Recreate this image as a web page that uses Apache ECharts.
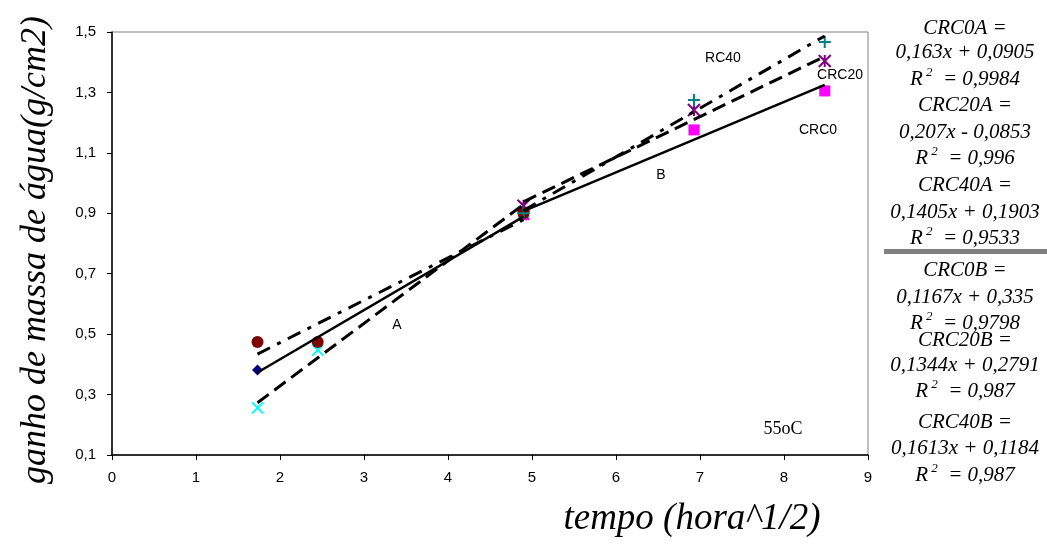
<!DOCTYPE html>
<html>
<head>
<meta charset="utf-8">
<script src="https://cdn.jsdelivr.net/npm/echarts@6/dist/echarts.min.js"></script>
<style>html,body{margin:0;padding:0;background:#fff}#c{width:1047px;height:545px}</style>
</head>
<body>
<div id="c"></div>
<script>
// ---- data (x = sqrt(hours)) ----
const crc0A_pts  = [[1.732,0.381],[2.449,0.474],[4.899,0.900]];
const crc0B_pts  = [[4.899,0.895],[6.928,1.176],[8.485,1.305]];
const crc20A_pts = [[1.732,0.256],[2.449,0.447],[4.899,0.905]];
const crc20B_pts = [[4.899,0.925],[6.928,1.242],[8.485,1.404]];
const crc40A_pts = [[1.732,0.474],[2.449,0.474],[4.899,0.900]];
const crc40B_pts = [[4.899,0.900],[6.928,1.275],[8.485,1.467]];

// trend lines (end points)
const crc0A_line  = [[1.732,0.373],[4.899,0.889]];
const crc0B_line  = [[4.899,0.907],[8.485,1.325]];
const crc20A_line = [[1.732,0.273],[4.899,0.929]];
const crc20B_line = [[4.899,0.938],[8.485,1.419]];
const crc40A_line = [[1.732,0.434],[4.899,0.879]];
const crc40B_line = [[4.899,0.909],[8.485,1.487]];

const equationLines = [
  'CRC0A =', '0,163x + 0,0905', 'R2|0,9984',
  'CRC20A =', '0,207x - 0,0853', 'R2|0,996',
  'CRC40A =', '0,1405x + 0,1903', 'R2|0,9533',
  'CRC0B =', '0,1167x + 0,335', 'R2|0,9798',
  'CRC20B =', '0,1344x + 0,2791', 'R2|0,987',
  'CRC40B =', '0,1613x + 0,1184', 'R2|0,987'
];
const equationY = [27,51,78, 104,131,157, 184,211,237, 269,296,322, 339,364,390, 421,447,474];

const plotLabels = [
  {t:'RC40', x:723, y:58}, {t:'CRC20', x:840, y:75}, {t:'CRC0', x:818, y:130},
  {t:'B', x:661, y:175}, {t:'A', x:397, y:325}
];

const SERIF = "'Liberation Serif','Times New Roman',serif";
const SANS = "'Liberation Sans',Arial,sans-serif";

const CROSS = 'path://M0,0L10,10M10,0L0,10';
const PLUS = 'path://M5,0L5,10M0,5L10,5';
const STAR = 'path://M0,0L10,10M10,0L0,10M5,0L5,10';

function scat(data, symbol, size, color, stroke){
  return {type:'scatter', data:data, symbol:symbol, symbolSize:size, z:2, symbolKeepAspect:true,
    itemStyle: stroke ? {color:'rgba(0,0,0,0)', borderColor:color, borderWidth:2, opacity:1} : {color:color, opacity:1},
    emphasis:{disabled:true}};
}
function line(data, dash, w){
  return {type:'line', data:data, symbol:'none', z:3, silent:true,
    lineStyle:{color:'#000', width:w, type:dash, cap:'butt'}};
}

const graphics = [];
equationLines.forEach((t,i)=>{
  let txt;
  if (t.startsWith('R2|')) {
    txt = '{r|R}{s| 2}{r|  = ' + t.slice(3) + '}';
  } else {
    txt = '{r|' + t + '}';
  }
  graphics.push({type:'text', x:965, y:equationY[i], style:{
    text:txt, align:'center', verticalAlign:'middle',
    rich:{
      r:{fontFamily:SERIF, fontStyle:'italic', fontSize:21, fill:'#000', lineHeight:24, verticalAlign:'bottom'},
      s:{fontFamily:SERIF, fontStyle:'italic', fontSize:13, fill:'#000', lineHeight:24, verticalAlign:'top'}
    }}});
});
graphics.push({type:'rect', shape:{x:884, y:249, width:163, height:5}, style:{fill:'#808080'}});
plotLabels.forEach(p=>{
  graphics.push({type:'text', x:p.x, y:p.y, style:{text:p.t, font:'14px '+SANS, fill:'#000', align:'center', verticalAlign:'middle'}});
});
graphics.push({type:'text', x:783, y:429, style:{text:'55oC', font:'18px '+SERIF, fill:'#000', align:'center', verticalAlign:'middle'}});
graphics.push({type:'text', x:692, y:519, style:{text:'tempo (hora^1/2)', font:'italic 37px '+SERIF, fill:'#000', align:'center', verticalAlign:'middle'}});
graphics.push({type:'text', x:36, y:250, rotation:Math.PI/2, style:{text:'ganho de massa de água(g/cm2)', font:'italic 36px '+SERIF, fill:'#000', align:'center', verticalAlign:'middle'}});

const chart = echarts.init(document.getElementById('c'), null, {renderer:'canvas'});
chart.setOption({
  animation:false,
  backgroundColor:'#fff',
  grid:{left:112, right:179, top:32, bottom:90, show:true, borderColor:'#808080', borderWidth:1, containLabel:false},
  xAxis:{type:'value', min:0, max:9, interval:1,
    axisLine:{show:true, onZero:false, lineStyle:{color:'#000', width:1.5}},
    axisTick:{show:true, length:5, lineStyle:{color:'#000'}},
    axisLabel:{fontSize:15, color:'#000', fontFamily:SANS, margin:15},
    splitLine:{show:false}},
  yAxis:{type:'value', min:0.1, max:1.5, interval:0.2,
    axisLine:{show:true, onZero:false, lineStyle:{color:'#000', width:1.5}},
    axisTick:{show:true, length:5, lineStyle:{color:'#000'}},
    axisLabel:{fontSize:15, color:'#000', fontFamily:SANS, margin:16,
      formatter:v=>(Math.round(v*10)/10).toFixed(1).replace('.', ',')},
    splitLine:{show:false}},
  series:[
    scat(crc0A_pts, 'diamond', 11, '#000080', false),
    scat(crc0B_pts, 'rect', 11, '#FF00FF', false),
    scat(crc20A_pts, CROSS, 11, '#00FFFF', true),
    scat(crc20B_pts, STAR, 12, '#800080', true),
    scat(crc40A_pts, 'circle', 12, '#800000', false),
    scat(crc40B_pts, PLUS, 12, '#008080', true),
    line(crc0A_line, 'solid', 2.5),
    line(crc0B_line, 'solid', 2.5),
    line(crc20A_line, [14,7], 3),
    line(crc20B_line, [14,7], 3),
    line(crc40A_line, [14,8,4,8], 3),
    line(crc40B_line, [14,8,4,8], 3)
  ],
  graphic:graphics
});
</script>
</body>
</html>
